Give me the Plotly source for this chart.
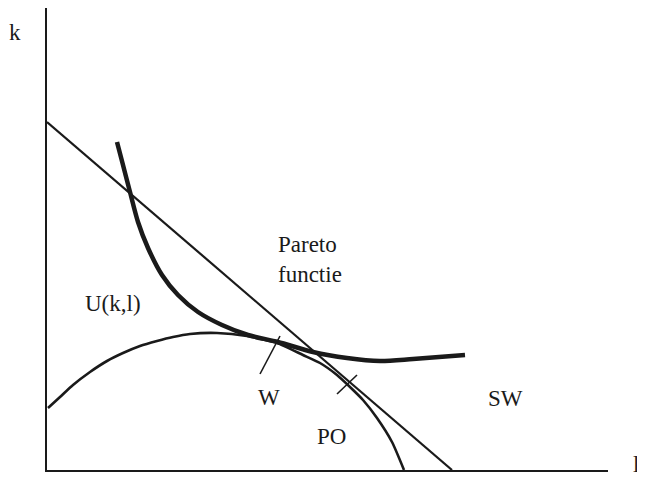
import plotly.graph_objects as go

# Budget / Pareto line (straight)
line_x = [0, 405]
line_y = [348, 0]

# Social welfare indifference curve (thick)
sw_x = [70, 76, 83, 91, 101, 115, 131, 151, 175, 201, 231, 266, 300, 333, 366, 418]
sw_y = [328, 305, 278, 248, 222, 195, 175, 158, 145, 135, 128, 118, 112, 109, 111, 115]

# Utility possibility frontier (arc)
po_x = [1, 13, 26, 43, 60, 76, 93, 110, 126, 143, 170, 200, 230, 256, 273, 290, 303, 316, 330, 345, 357]
po_y = [62, 73, 85, 98, 109, 117, 124, 129, 133, 136, 137, 134, 127, 115, 107, 95, 83, 70, 52, 28, 0]

# Tick marks
tick_w_x = [233, 213]
tick_w_y = [134, 96]
tick_po_x = [310, 290]
tick_po_y = [95, 76]

labels = ["U(k,l)", "Pareto<br>functie", "W", "PO", "SW"]
label_x = [66, 229, 222, 284, 458]
label_y = [167, 211, 73, 34, 72]

axis_labels = ["k", "l"]
axis_label_px = [-0.0570, 1.0500]
axis_label_py = [0.946, 0.012]

font = dict(family="Liberation Serif", size=23, color="#1a1a1a")

fig = go.Figure()
fig.add_trace(go.Scatter(x=line_x, y=line_y, mode="lines",
                         line=dict(color="#1a1a1a", width=2.2), hoverinfo="skip"))
fig.add_trace(go.Scatter(x=po_x, y=po_y, mode="lines",
                         line=dict(color="#1a1a1a", width=2.6, shape="spline", smoothing=0.6),
                         hoverinfo="skip"))
fig.add_trace(go.Scatter(x=sw_x, y=sw_y, mode="lines",
                         line=dict(color="#1a1a1a", width=4.5, shape="spline", smoothing=0.8),
                         hoverinfo="skip"))
fig.add_trace(go.Scatter(x=tick_w_x, y=tick_w_y, mode="lines",
                         line=dict(color="#1a1a1a", width=1.6), hoverinfo="skip"))
fig.add_trace(go.Scatter(x=tick_po_x, y=tick_po_y, mode="lines",
                         line=dict(color="#1a1a1a", width=1.6), hoverinfo="skip"))

for t, x, y in zip(labels, label_x, label_y):
    xa = "left" if t.startswith("Pareto") else "center"
    fig.add_annotation(x=x, y=y, text=t, showarrow=False, xanchor=xa, yanchor="middle",
                       align="left", font=font)

for t, x, y in zip(axis_labels, axis_label_px, axis_label_py):
    fig.add_annotation(x=x, y=y, xref="paper", yref="paper", text=t, showarrow=False,
                       xanchor="center", yanchor="middle", font=font)

fig.update_layout(
    width=637, height=474,
    margin=dict(l=39, r=37, t=0, b=12),
    paper_bgcolor="white", plot_bgcolor="white",
    showlegend=False,
    xaxis=dict(range=[0, 561], showline=True, linecolor="#1a1a1a", linewidth=1.5,
               showgrid=False, zeroline=False, showticklabels=False, ticks=""),
    yaxis=dict(range=[0, 462], showline=True, linecolor="#1a1a1a", linewidth=1.5,
               showgrid=False, zeroline=False, showticklabels=False, ticks=""),
)

fig.write_html("out.html")
